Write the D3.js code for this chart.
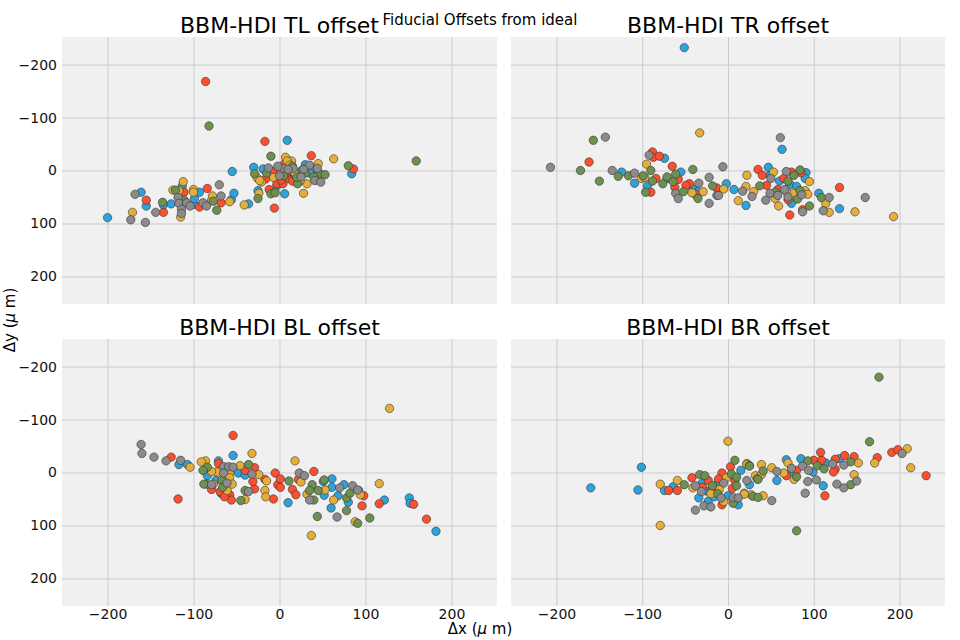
<!DOCTYPE html>
<html><head><meta charset="utf-8">
<script src="https://cdn.jsdelivr.net/npm/d3@7"></script>
<style>body{margin:0;background:#fff;} svg{display:block;font-family:"DejaVu Sans",sans-serif;}</style>
</head><body>
<script>
// ---- data (Δx, Δy in μm) ----
const panelTitles = ["BBM-HDI TL offset", "BBM-HDI TR offset", "BBM-HDI BL offset", "BBM-HDI BR offset"];
const tickValues = [-200, -100, 0, 100, 200];
const seriesColors = ["#30a2da", "#fc4f30", "#e5ae38", "#6d904f", "#8b8b8b"];

const tlBlue = [[-200,89],[-161,41],[-155,67],[-135,65],[-126,63],[-113,29],[-99,64],[-99,53],[-93,41],[-56,55],[-53,43],[-55,2],[-36,63],[-30,-6],[-25,38],[-19,-3],[9,-57],[30,-11],[39,-3],[35,5],[6,44],[84,6],[-3,29],[20,15],[12,10],[28,-2]];
const tlRed = [[-86,-168],[-155,56],[-135,79],[-111,41],[-93,69],[-84,34],[-68,61],[-17,-55],[37,-28],[86,-3],[-12,36],[-6,71],[-8,2],[6,-13],[-16,16],[-3,25],[4,25],[10,15],[15,20],[8,5],[18,8],[2,18],[12,-6],[5,8],[22,22]];
const tlYellow = [[-171,79],[-124,37],[-117,38],[-115,88],[-112,21],[-100,36],[-100,41],[-79,56],[-78,48],[-58,59],[-41,65],[-24,43],[-21,22],[-26,14],[-23,19],[7,-25],[14,-18],[45,-13],[63,-22],[-7,13],[28,43],[32,25],[24,19],[10,-5],[2,3],[9,-18],[12,-10],[18,5]];
const tlGreen = [[-82,-84],[159,-18],[-136,60],[-121,37],[-111,56],[-77,58],[-73,75],[-29,6],[-25,53],[-10,-27],[-10,44],[-5,42],[21,25],[26,0],[47,6],[53,8],[20,13],[80,-9],[5,10],[-15,5],[40,12],[30,5],[15,-8]];
const tlGrey = [[-173,93],[-168,45],[-156,98],[-144,79],[-118,51],[-117,62],[-114,73],[-114,81],[-108,61],[-104,67],[-89,61],[-85,67],[-70,27],[-68,48],[-13,-5],[5,-4],[16,-4],[35,-10],[41,19],[48,22],[-2,-8],[28,-2],[0,10],[44,-4],[10,-2],[25,12]];

const trBlue = [[-51,-232],[-124,3],[-109,24],[-74,-23],[-94,29],[-71,15],[-55,3],[-41,35],[-35,40],[-2,25],[7,36],[21,66],[47,-6],[63,-40],[72,26],[91,4],[90,15],[74,62],[49,9],[106,43],[130,72],[60,20],[80,30]];
const trRed = [[-162,-16],[-88,-35],[-87,-25],[-80,-27],[-65,-8],[-84,15],[-90,41],[-58,17],[-62,32],[-45,25],[-38,45],[-49,28],[-13,33],[35,-2],[40,9],[45,28],[58,36],[72,84],[74,3],[85,4],[87,74],[70,55],[130,32],[65,15]];
const trYellow = [[-33,-71],[-95,-12],[-101,15],[-97,13],[-29,40],[-42,42],[21,30],[22,9],[12,57],[30,40],[53,3],[55,53],[59,67],[95,21],[90,38],[93,45],[76,43],[114,62],[118,79],[148,78],[193,87],[-5,35],[68,40]];
const trGreen = [[-157,-57],[-172,0],[-150,20],[-128,11],[-116,10],[-90,0],[-99,10],[-96,41],[-88,20],[-76,25],[-71,12],[-61,7],[-64,21],[-52,40],[-41,-2],[-35,53],[-18,29],[37,29],[55,41],[77,9],[84,-1],[95,67],[81,54],[84,38],[109,51],[70,20]];
const trGrey = [[-207,-6],[-143,-63],[-135,0],[-109,5],[-92,-29],[-61,43],[-58,53],[-34,24],[-22,13],[-22,62],[-13,47],[-11,47],[-6,-7],[61,-62],[17,39],[28,49],[44,56],[49,43],[68,2],[66,36],[58,47],[70,50],[87,78],[86,46],[111,76],[118,51],[160,51],[50,15]];

const blBlue = [[-117,-15],[-107,-15],[-54,-32],[-71,-22],[-84,6],[-48,1],[-74,15],[-68,39],[10,57],[51,17],[61,12],[52,43],[61,28],[75,23],[68,44],[92,34],[80,56],[60,67],[122,52],[151,48],[152,58],[182,111],[-40,5]];
const blRed = [[-126,-29],[-118,50],[-54,-70],[-71,-17],[-29,-9],[-40,-4],[-79,32],[-69,36],[-58,42],[-56,52],[-64,46],[-29,31],[-31,17],[-7,50],[-17,13],[-5,1],[-2,23],[1,28],[1,12],[40,-2],[22,13],[15,32],[19,42],[98,44],[96,63],[116,59],[156,60],[171,88]];
const blYellow = [[-104,-10],[-86,-22],[-91,-20],[-32,-36],[-46,-13],[-58,1],[-73,-1],[-79,-2],[-24,4],[-77,22],[-58,10],[-55,22],[-61,34],[-40,51],[-17,34],[-16,46],[-15,16],[18,-22],[25,18],[32,41],[53,33],[63,52],[94,42],[88,93],[116,21],[128,-121],[37,119]];
const blGreen = [[-84,-10],[-89,-4],[-36,-15],[-85,22],[-88,22],[-67,14],[-66,28],[-45,53],[-40,34],[11,16],[38,23],[52,14],[35,34],[40,52],[45,34],[78,48],[82,39],[44,83],[78,72],[91,96],[105,86]];
const blGrey = [[-161,-53],[-160,-36],[-146,-29],[-132,-22],[-115,-23],[-65,-11],[-59,-11],[-54,-10],[-65,1],[-32,3],[-79,23],[-61,20],[-36,36],[23,1],[29,6],[35,52],[70,29],[85,25],[91,33],[67,84]];

const brBlue = [[-160,29],[-105,33],[-101,-10],[-74,34],[-64,27],[-30,20],[-34,48],[-23,54],[-16,46],[-11,18],[0,44],[15,-4],[25,23],[12,61],[57,15],[72,2],[68,-24],[85,-26],[99,-1],[114,-18],[130,-26],[111,25],[-25,35]];
const brRed = [[-69,34],[-59,34],[-42,10],[-23,15],[-19,34],[-7,1],[-11,12],[-7,61],[3,-11],[8,15],[5,30],[80,-4],[68,6],[100,-23],[109,-23],[125,-25],[125,-6],[123,-1],[108,-38],[113,44],[136,-32],[147,-30],[174,-28],[191,-38],[198,-43],[231,6],[-30,28]];
const brYellow = [[-79,22],[-79,100],[-59,15],[-41,29],[0,-59],[-10,32],[-5,55],[-2,10],[22,-17],[32,6],[19,39],[27,42],[22,-15],[39,-15],[39,4],[19,41],[41,44],[51,-9],[65,1],[70,-18],[77,13],[152,-18],[147,4],[171,-18],[209,-45],[213,-9],[-20,40]];
const brGreen = [[-51,23],[-33,4],[-27,6],[-18,25],[8,-23],[25,-13],[4,3],[10,9],[6,58],[10,25],[34,12],[29,45],[35,47],[25,-12],[41,-3],[35,13],[80,8],[93,-22],[104,-13],[112,-7],[143,-20],[143,23],[165,-58],[176,-180],[80,110],[-12,40]];
const brGrey = [[-38,25],[-31,36],[-38,71],[-28,63],[-20,65],[22,15],[6,47],[12,48],[-5,20],[51,53],[57,-2],[74,-8],[87,-12],[94,-4],[90,39],[93,17],[103,14],[122,-16],[127,22],[135,29],[135,-14],[150,16],[203,-36],[-8,48]];

const panelSeries = [
  [tlBlue, tlRed, tlYellow, tlGreen, tlGrey],
  [trBlue, trRed, trYellow, trGreen, trGrey],
  [blBlue, blRed, blYellow, blGreen, blGrey],
  [brBlue, brRed, brYellow, brGreen, brGrey]
];

// ---- layout ----
const W = 960, H = 640;
const cols = [[62, 497], [511, 945]];
const rows = [[37, 304], [339, 606]];
const dom = [-253, 253];
const ydom = [-252, 252];

const svg = d3.select("body").append("svg").attr("width", W).attr("height", H);
svg.append("rect").attr("width", W).attr("height", H).attr("fill", "#fff");

panelSeries.forEach((series, i) => {
  const c = cols[i % 2], r = rows[Math.floor(i / 2)];
  const x = d3.scaleLinear().domain(dom).range(c);
  const y = d3.scaleLinear().domain(ydom).range(r);
  const g = svg.append("g");
  g.append("rect").attr("x", c[0]).attr("y", r[0]).attr("width", c[1] - c[0]).attr("height", r[1] - r[0]).attr("fill", "#f0f0f0");
  const gx = g.append("g").attr("transform", `translate(0,${r[1]})`)
    .call(d3.axisBottom(x).tickValues(tickValues).tickSize(-(r[1] - r[0])).tickFormat(i >= 2 ? (d => d3.format("d")(d).replace("-", "\u2212")) : ""));
  const gy = g.append("g").attr("transform", `translate(${c[0]},0)`)
    .call(d3.axisLeft(y).tickValues(tickValues).tickSize(-(c[1] - c[0])).tickFormat(i % 2 === 0 ? (d => d3.format("d")(d).replace("-", "\u2212")) : ""));
  [gx, gy].forEach(a => {
    a.select(".domain").remove();
    a.selectAll(".tick line").attr("stroke", "#cbcbcb").attr("stroke-width", 1);
    a.selectAll(".tick text").attr("fill", "#111").attr("font-size", 14).attr("font-family", "DejaVu Sans");
  });
  gx.selectAll(".tick text").attr("dy", null).attr("y", 13);
  gy.selectAll(".tick text").attr("x", -5);

  series.forEach((pts, k) => {
    g.append("g").selectAll("circle").data(pts).join("circle")
      .attr("cx", d => x(d[0])).attr("cy", d => y(d[1])).attr("r", 4.2)
      .attr("fill", seriesColors[k]).attr("stroke", "#333").attr("stroke-width", 0.6);
  });

  svg.append("text").attr("x", (c[0] + c[1]) / 2).attr("y", r[0] - 4)
    .attr("text-anchor", "middle").attr("font-size", 22).attr("fill", "#000").text(panelTitles[i]);
});

svg.append("text").attr("x", 480).attr("y", 25).attr("text-anchor", "middle").attr("font-size", 15).attr("fill", "#000").text("Fiducial Offsets from ideal");
const xl = svg.append("text").attr("x", 480).attr("y", 634).attr("text-anchor", "middle").attr("font-size", 15).attr("fill", "#000");
xl.append("tspan").text("\u0394x (");
xl.append("tspan").attr("font-style", "italic").text("\u03bc");
xl.append("tspan").text(" m)");
const yl = svg.append("text").attr("transform", "translate(15,320) rotate(-90)").attr("text-anchor", "middle").attr("font-size", 15).attr("fill", "#000");
yl.append("tspan").text("\u0394y (");
yl.append("tspan").attr("font-style", "italic").text("\u03bc");
yl.append("tspan").text(" m)");
</script>
</body></html>
